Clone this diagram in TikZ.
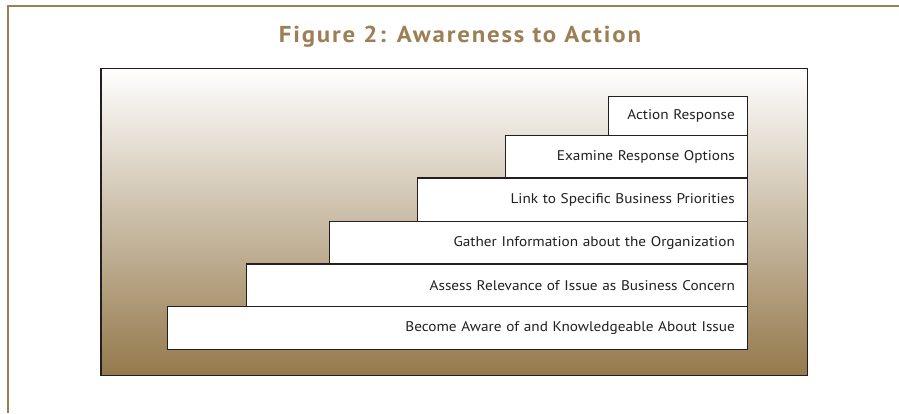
\documentclass[tikz,border=0pt]{standalone}
\usepackage{fontspec}
\setmainfont{PT Sans}
\newfontfamily\boxfont[FakeStretch=1.09]{PT Sans}
\newfontfamily\titlefont[FakeStretch=1.08,LetterSpace=8]{PT Sans}
\definecolor{tan}{RGB}{156,127,85}
\definecolor{tandark}{RGB}{148,121,76}
\definecolor{ink}{RGB}{35,31,32}
\begin{document}
\begin{tikzpicture}[x=1pt,y=-1pt,
  stepbox/.style={draw=ink,line width=1.3pt,fill=white,anchor=north east,
    inner xsep=12.5pt,inner ysep=0pt,align=right,
    font=\boxfont\fontsize{14}{16}\selectfont,text=ink}]
\useasboundingbox (0,0) rectangle (899,413);
% outer frame (top and left)
\draw[tan,line width=2.2pt] (899,6) -- (8,6) -- (8,413);
% title
\node[text=tan,font=\titlefont\fontsize{23}{26}\selectfont\bfseries,anchor=base] (title) at (460,42.5) {Figure 2: Awareness to Action};
% background panel
\shade[top color=white,bottom color=tandark] (101,68.3) rectangle (807.5,375.3);
\draw[ink,line width=1.3pt] (101,68.3) rectangle (807.5,375.3);
% steps
\node[stepbox,minimum height=43pt,text width=580-25pt] (s1) at (748,306) {Become Aware of and Knowledgeable About Issue};
\node[stepbox,minimum height=42.7pt,text width=501-25pt] (s2) at (748,263.3) {Assess Relevance of Issue as Business Concern};
\node[stepbox,minimum height=42.6pt,text width=418-25pt] (s3) at (748,220.7) {Gather Information about the Organization};
\node[stepbox,minimum height=43.4pt,text width=330-25pt] (s4) at (748,177.3) {Link to Specific Business Priorities};
\node[stepbox,minimum height=42.3pt,text width=242-25pt] (s5) at (748,135) {Examine Response Options};
\node[stepbox,minimum height=39pt,text width=139-25pt] (s6) at (748,96) {Action Response};
\end{tikzpicture}
\end{document}
